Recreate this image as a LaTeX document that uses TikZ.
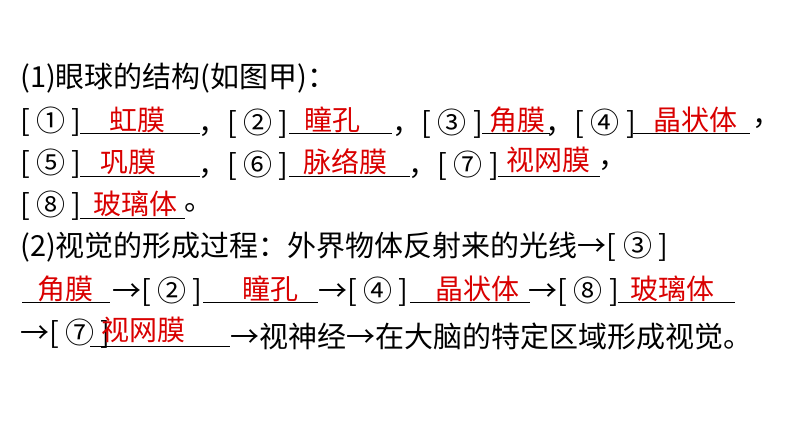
\documentclass[tikz,border=0pt]{standalone}
\usepackage{fontspec}
\setmainfont{Noto Sans CJK SC}
\usetikzlibrary{positioning}
\tikzset{
  txt/.style={anchor=west, inner sep=0pt, font=\fontsize{29}{32}\selectfont},
  ans/.style={inner sep=0pt, text=red!85!black, font=\fontsize{28}{31}\selectfont},
  blank/.style={line width=0.9pt}
}
\begin{document}
\begin{tikzpicture}[x=1pt, y=-1pt]
  \useasboundingbox (0,0) rectangle (794,447);
  % part (1)
  \node[txt] (t1) at (20,78) {(1)眼球的结构(如图甲)：};
  % row 2
  \node[txt] (b1) at (20,122) {[ ① ]};
  \draw[blank] (80,133) -- (200,133);
  \node[ans] (a1) at (137,120) {虹膜};
  \node[txt] (c1) at (198,124) {，[ ② ]};
  \draw[blank] (289,133) -- (392,133);
  \node[ans] (a2) at (332,120) {瞳孔};
  \node[txt] (c2) at (392,124) {，[ ③ ]};
  \draw[blank] (482,133) -- (550,133);
  \node[ans] (a3) at (517,120) {角膜};
  \node[txt] (c3) at (545,124) {，[ ④ ]};
  \draw[blank] (633,133) -- (750,133);
  \node[ans] (a4) at (695,120) {晶状体};
  \node[txt] (c4) at (752,124) {，};
  % row 3
  \node[txt] (b5) at (20,164) {[ ⑤ ]};
  \draw[blank] (80,176) -- (200,176);
  \node[ans] (a5) at (128,162) {巩膜};
  \node[txt] (c5) at (198,166) {，[ ⑥ ]};
  \draw[blank] (289,176) -- (410,176);
  \node[ans] (a6) at (345,162) {脉络膜};
  \node[txt] (c6) at (408,166) {，[ ⑦ ]};
  \draw[blank] (498,176) -- (600,176);
  \node[ans] (a7) at (548,160) {视网膜};
  \node[txt] (c7) at (598,166) {，};
  % row 4
  \node[txt] (b8) at (20,206) {[ ⑧ ]};
  \draw[blank] (80,218) -- (185,218);
  \node[ans] (a8) at (135,204) {玻璃体};
  \node[txt] (c8) at (184,208) {。};
  % part (2)
  \node[txt] (t2) at (20,247) {(2)视觉的形成过程：外界物体反射来的光线→[ ③ ]};
  \draw[blank] (22,302) -- (110,302);
  \node[ans] (d1) at (65,289) {角膜};
  \node[txt] (e1) at (112,292) {→[ ② ]};
  \draw[blank] (203,302) -- (318,302);
  \node[ans] (d2) at (270,289) {瞳孔};
  \node[txt] (e2) at (318,292) {→[ ④ ]};
  \draw[blank] (410,302) -- (530,302);
  \node[ans] (d3) at (477,289) {晶状体};
  \node[txt] (e3) at (528,292) {→[ ⑧ ]};
  \draw[blank] (618,302) -- (735,302);
  \node[ans] (d4) at (672,289) {玻璃体};
  \node[txt] (e4) at (20,334) {→[ ⑦ ]};
  \draw[blank] (90,346) -- (230,346);
  \node[ans] (d5) at (143,330) {视网膜};
  \node[txt] (e5) at (230,336) {→视神经→在大脑的特定区域形成视觉。};
\end{tikzpicture}
\end{document}
